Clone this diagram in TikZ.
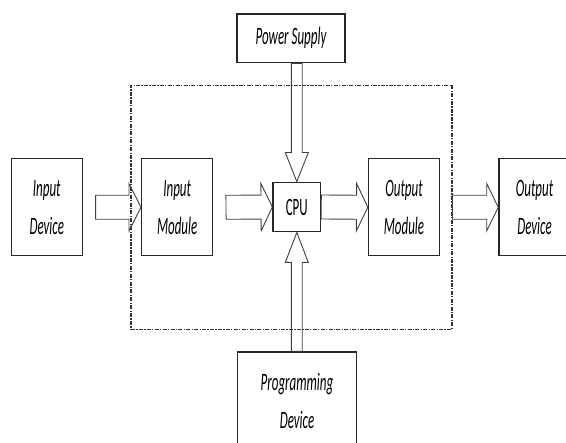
\documentclass[tikz,border=0pt]{standalone}
\usepackage{fontspec}
\setmainfont{Carlito}
\usepackage{graphicx}
\usetikzlibrary{calc}
\newcommand{\sqz}[1]{\scalebox{0.52}[1]{#1}}
% hollow block arrow: start, tip, half shaft, half head, head length
\newcommand{\blockarrow}[5]{%
  \coordinate (hb) at ($(#2)!#5pt!(#1)$);
  \draw[arr] ($(#1)!#3pt!90:(#2)$) -- ($(hb)!#3pt!90:(#2)$) -- ($(hb)!#4pt!90:(#2)$)
    -- (#2) -- ($(hb)!#4pt!-90:(#2)$) -- ($(hb)!#3pt!-90:(#2)$) -- ($(#1)!#3pt!-90:(#2)$) -- cycle;
}
\tikzstyle{blk}=[draw=black!85,line width=1.4pt,inner sep=0pt,minimum width=71pt,
  minimum height=97pt,align=center,font=\fontsize{25}{38}\selectfont\itshape]
\tikzstyle{cpubox}=[blk,minimum width=47.5pt,minimum height=49.5pt,font=\fontsize{25}{30}\selectfont]
\tikzstyle{arr}=[draw=black!75,line width=0.9pt,line join=miter]
\tikzstyle{plc}=[draw=black!80,line width=1.1pt,dash pattern=on 4pt off 1.3pt on 1.3pt off 1.3pt]

\begin{document}
\begin{tikzpicture}[x=1pt,y=-1pt]
  \clip (0,0) rectangle (566,443);
  \node [plc,minimum width=321pt,minimum height=244pt] (frame) at (291.5,207.3) {};
  \node [blk] (indev) at (46.75,207.3) {\sqz{Input}\\\sqz{Device}};
  \node [blk] (inmod) at (177.2,207.3) {\sqz{Input}\\\sqz{Module}};
  \node [cpubox] (cpu) at (296.8,207) {\sqz{CPU}};
  \node [blk] (outmod) at (404,207.3) {\sqz{Output}\\\sqz{Module}};
  \node [blk] (outdev) at (534.5,207.3) {\sqz{Output}\\\sqz{Device}};
  \node [blk,minimum width=108pt,minimum height=48.7pt,font=\fontsize{25}{30}\selectfont\itshape]
    (power) at (291,38.3) {\sqz{Power Supply}};
  \node [blk,minimum width=119.5pt] (prog) at (297,400.5) {\sqz{Programming}\\\sqz{Device}};
  \coordinate (a1) at ($(indev.east)+(12.6,0)$);
  \coordinate (a2) at ($(inmod.east)+(12.6,0)$);
  \coordinate (a4) at ($(outmod.east)+(12.3,0)$);
  \coordinate (a5) at (cpu.north |- power.south);
  \coordinate (a6) at (cpu.south |- prog.north);
  \blockarrow{a1}{inmod.west}{12}{23.7}{12}
  \blockarrow{a2}{cpu.west}{12}{23.7}{11.3}
  \blockarrow{cpu.east}{outmod.west}{12}{23.7}{11.3}
  \blockarrow{a4}{outdev.west}{12}{23.7}{11.6}
  \blockarrow{a5}{cpu.north}{5.4}{11.5}{29}
  \blockarrow{a6}{cpu.south}{5.4}{11.5}{30}
\end{tikzpicture}
\end{document}
